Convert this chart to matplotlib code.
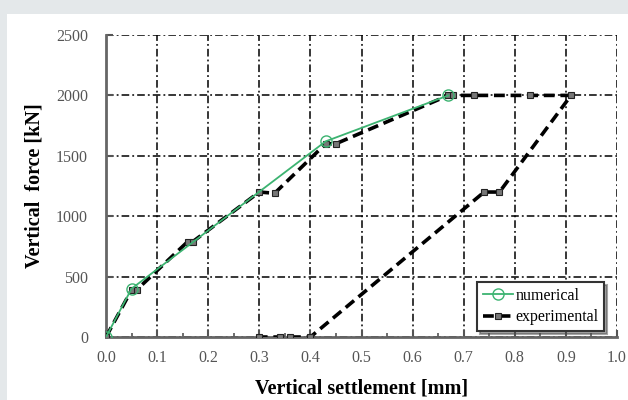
import matplotlib
matplotlib.use('Agg')
import matplotlib.pyplot as plt
from matplotlib.patches import Rectangle
from matplotlib.ticker import MultipleLocator

# numerical curve
num_x = [0.0, 0.05, 0.43, 0.67]
num_y = [0, 400, 1620, 2000]

# experimental loading / unloading curve
exp_x = [0.0, 0.05, 0.06, 0.16, 0.17, 0.30, 0.33, 0.43, 0.45, 0.67, 0.68,
         0.72, 0.83, 0.91, 0.77, 0.74, 0.40, 0.36, 0.34, 0.30]
exp_y = [0, 390, 390, 790, 790, 1200, 1190, 1600, 1600, 2000, 2000,
         2000, 2000, 2000, 1200, 1200, 0, 0, 0, 0]

xticks = [0.0, 0.1, 0.2, 0.3, 0.4, 0.5, 0.6, 0.7, 0.8, 0.9, 1.0]
yticks = [0, 500, 1000, 1500, 2000, 2500]

plt.rcParams['font.family'] = ['Liberation Serif', 'DejaVu Serif']

fig = plt.figure(figsize=(6.28, 4.0), dpi=100)
fig.patch.set_facecolor('#e4e8ea')
# white panel behind the chart
fig.patches.append(Rectangle((7 / 628, 0), 1, 386 / 400, transform=fig.transFigure,
                             facecolor='white', edgecolor='none', zorder=-10))

ax = fig.add_axes([0.1688, 0.1575, 0.8137, 0.755])
ax.set_zorder(5)
ax.set_facecolor('white')

ax.plot(exp_x, exp_y, color='black', lw=2.6, ls=(0, (3, 1.6)), marker='s', ms=4.5,
        mfc='#777777', mec='#222222', mew=0.8, label='experimental', zorder=3)
ax.plot(num_x, num_y, color='#3cb371', lw=1.3, marker='o', ms=8,
        mfc='none', mec='#3cb371', mew=1.0, label='numerical', zorder=4)

ax.set_xlim(0, 1.0)
ax.set_ylim(0, 2500)
ax.set_xticks(xticks)
ax.set_yticks(yticks)
ax.set_xticklabels(['%.1f' % v for v in xticks])
ax.xaxis.set_minor_locator(MultipleLocator(0.05))

ax.grid(True, which='major', color='black', lw=1.1, ls=(0, (5, 2, 1.2, 2)))
ax.set_axisbelow(True)

for s in ['top', 'right']:
    ax.spines[s].set_visible(False)
for s in ['left', 'bottom']:
    ax.spines[s].set_color('#666666')
    ax.spines[s].set_linewidth(2)

ax.tick_params(axis='both', which='major', direction='in', length=5, width=1.5,
               color='#555555', labelsize=11.5, labelcolor='#555555')
ax.tick_params(axis='y', pad=13)
ax.tick_params(axis='x', pad=9)
ax.tick_params(axis='x', which='minor', direction='in', length=3, width=1.2,
               color='#555555')
ax.tick_params(axis='x', which='both', top=False)

ax.set_xlabel('Vertical settlement [mm]', fontsize=14.5, fontweight='bold', labelpad=9)
ax.set_ylabel('Vertical  force [kN]', fontsize=14.5, fontweight='bold', labelpad=8)

handles, labels = ax.get_legend_handles_labels()
leg = ax.legend(handles[::-1], labels[::-1], loc='lower right', fontsize=11.5,
                frameon=True, fancybox=False, shadow=True, handlelength=1.9,
                handletextpad=0.15, borderpad=0.35, labelspacing=0.35,
                borderaxespad=0, bbox_to_anchor=(0.975, 0.02))
leg.get_frame().set_edgecolor('#333333')
leg.get_frame().set_linewidth(1.5)

fig.savefig('out.png', dpi=100, facecolor=fig.get_facecolor())
